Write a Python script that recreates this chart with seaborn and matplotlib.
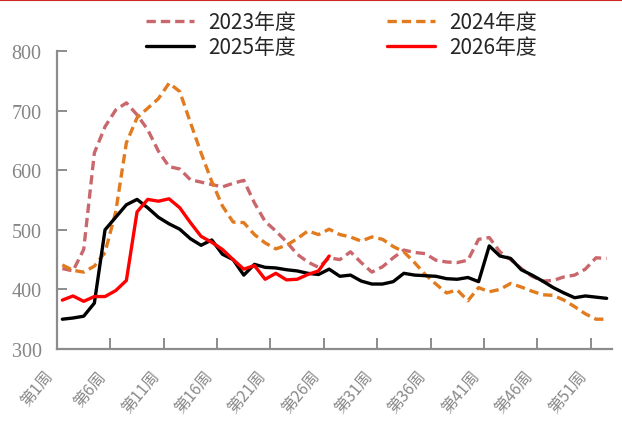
import matplotlib
matplotlib.use("Agg")
import matplotlib.pyplot as plt
import pandas as pd
import seaborn as sns
from matplotlib.lines import Line2D
from matplotlib.transforms import ScaledTranslation

# ---- data -------------------------------------------------------------
weeks = list(range(1, 53))
series_names = ["2023年度", "2024年度", "2025年度", "2026年度"]

v2023 = [435, 431, 467, 629, 673, 701, 713, 693, 668, 632, 606, 602, 584, 580,
         576, 572, 578, 583, 545, 514, 498, 480, 459, 446, 437, 453, 450, 463,
         445, 429, 438, 453, 466, 462, 460, 449, 446, 445, 449, 484, 487, 463,
         450, 435, 422, 414, 415, 421, 424, 434, 453, 452]
v2024 = [441, 432, 429, 439, 462, 530, 646, 688, 704, 720, 746, 732, 680, 629,
         581, 540, 513, 512, 492, 478, 468, 474, 485, 498, 492, 501, 492, 488,
         481, 488, 484, 472, 463, 445, 425, 409, 394, 399, 381, 403, 396, 400,
         410, 404, 397, 391, 390, 382, 371, 359, 350, 350]
v2025 = [350, 352, 355, 377, 500, 521, 542, 551, 537, 521, 510, 501, 485, 474,
         483, 459, 450, 424, 442, 437, 436, 433, 431, 427, 425, 434, 422, 424,
         414, 409, 409, 413, 427, 424, 423, 422, 418, 417, 420, 413, 473, 456,
         452, 433, 424, 414, 403, 394, 386, 389, 387, 385]
v2026 = [382, 389, 380, 388, 388, 398, 415, 530, 551, 548, 552, 537, 512, 489,
         479, 467, 450, 434, 440, 417, 427, 416, 417, 425, 431, 456]

tick_weeks = [1, 6, 11, 16, 21, 26, 31, 36, 41, 46, 51]
tick_labels = [f"第{w}周" for w in tick_weeks]
y_ticks = [300, 400, 500, 600, 700, 800]

# ---- long-form table ----------------------------------------------------
frames = []
for name, vals in zip(series_names, [v2023, v2024, v2025, v2026]):
    frames.append(pd.DataFrame({"周": weeks[:len(vals)], "价格": vals, "年度": name}))
df = pd.concat(frames, ignore_index=True)

palette = {"2023年度": "#C9676C", "2024年度": "#E27A1E",
           "2025年度": "#000000", "2026年度": "#FF0000"}
dashes = {"2023年度": (2.8, 1.5), "2024年度": (2.8, 1.5),
          "2025年度": "", "2026年度": ""}

# ---- figure -------------------------------------------------------------
sns.set_theme(style="white")
plt.rcParams["font.family"] = ["Noto Sans CJK SC", "DejaVu Sans"]

fig = plt.figure(figsize=(6.22, 4.27), dpi=100)
ax = fig.add_axes([57 / 622, 1 - 350 / 427, 555 / 622, 298 / 427])

sns.lineplot(data=df, x="周", y="价格", hue="年度", style="年度",
             hue_order=series_names, style_order=series_names,
             palette=palette, dashes=dashes, linewidth=2.4,
             ax=ax, legend=False)
for ln in ax.lines:
    ln.set_dash_capstyle("butt")

ax.set_xlim(0.5, 52.5)
ax.set_ylim(300, 800)
ax.set_xlabel("")
ax.set_ylabel("")

# spines
for side in ["top", "right"]:
    ax.spines[side].set_visible(False)
for side in ["left", "bottom"]:
    ax.spines[side].set_color("#8C8C8C")
    ax.spines[side].set_linewidth(1.6)

# y axis
ax.set_yticks(y_ticks)
ax.set_yticklabels([str(v) for v in y_ticks], family="Liberation Serif",
                   fontsize=14.5, color="#858585")
ax.tick_params(axis="y", direction="in", length=7, width=1.4,
               color="#8C8C8C", pad=11, left=True)

# x axis: tick marks between weeks, labels at week centres
ax.set_xticks([w + 0.5 for w in range(5, 52, 5)])
ax.set_xticklabels([])
ax.tick_params(axis="x", which="major", direction="in", length=8,
               width=1.4, color="#8C8C8C", bottom=True)
ax.set_xticks(tick_weeks, minor=True)
ax.set_xticklabels(tick_labels, minor=True, rotation=50, ha="right",
                   va="center", rotation_mode="anchor", fontsize=11.5,
                   color="#8A8A8A")
ax.tick_params(axis="x", which="minor", length=0, pad=17)
shift = ScaledTranslation(-9 / 72, 0, fig.dpi_scale_trans)
for lab in ax.get_xticklabels(minor=True):
    lab.set_transform(lab.get_transform() + shift)

# legend
handles = [Line2D([], [], color=palette[n], linewidth=2.4,
                  dashes=dashes[n] if dashes[n] else (None, None),
                  dash_capstyle="butt") for n in series_names]
order = [0, 2, 1, 3]
fig.legend([handles[i] for i in order], [series_names[i] for i in order],
           ncol=2, loc="upper left", bbox_to_anchor=(138 / 622, 1 - 4 / 427),
           frameon=False, fontsize=15, handlelength=2.3, handletextpad=0.65,
           columnspacing=4.4, labelspacing=0.15, borderaxespad=0)

# thin red rule along the top edge
fig.add_artist(Line2D([0, 1], [0.998, 0.998], color="#D0262A",
                      linewidth=1.5, transform=fig.transFigure))

fig.savefig("out.png", dpi=100)
